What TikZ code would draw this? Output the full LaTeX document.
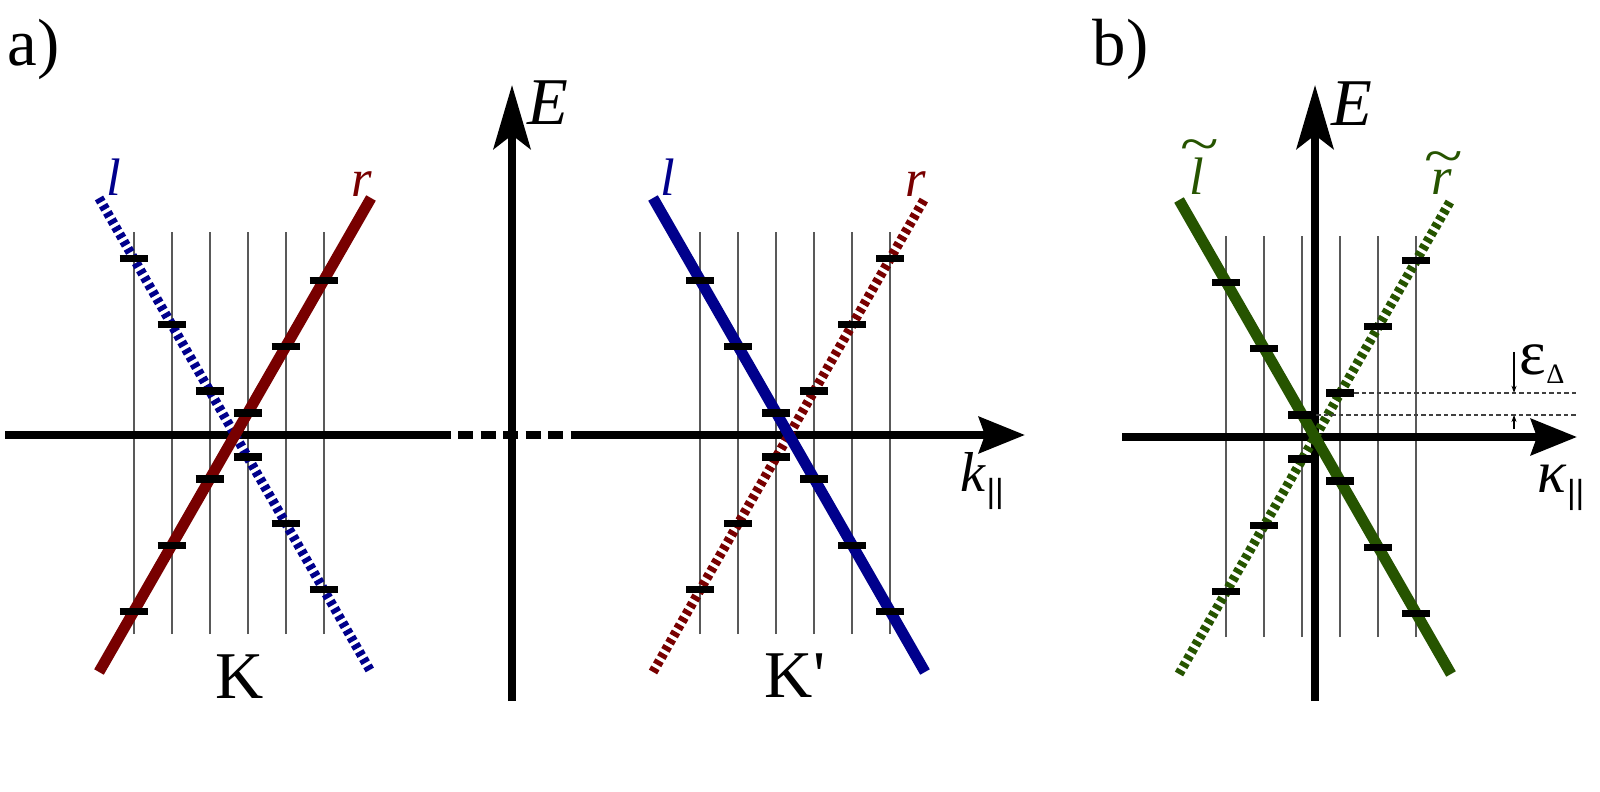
\documentclass[tikz,border=0pt]{standalone}
\usepackage{fontspec}
\setmainfont{Liberation Serif}
\setsansfont{Liberation Sans}
\newfontfamily\plainserif{Liberation Serif}
\usetikzlibrary{arrows.meta}
\definecolor{lblue}{RGB}{0,0,140}
\definecolor{rred}{RGB}{120,0,0}
\definecolor{tgreen}{RGB}{38,84,0}
\newcommand{\kstep}{0.38}
\newcommand{\bslope}{1.743}
\newcommand{\parbars}{\raisebox{-2.9pt}{\fontsize{9.5}{9.5}\selectfont\sffamily ||}}
% tilde over an italic letter: letter, raise, shift
\newcommand{\tildeon}[3]{\ooalign{\hidewidth\kern#3\raisebox{#2}{\scalebox{1.35}[1.05]{\textasciitilde}}\hidewidth\cr\textit{#1}\cr}}
\pgfdeclarelayer{back}
\pgfsetlayers{back,main}
\tikzset{
  axis line/.style={line width=0.08cm, black},
  E axis/.style={axis line, -{Stealth[length=0.64cm, width=0.37cm, inset=0.14cm]}},
  k axis/.style={axis line, -{Stealth[length=0.46cm, width=0.36cm, inset=0.06cm]}},
  gap axis/.style={axis line, dash pattern=on 0.15cm off 0.075cm},
  cut line/.style={line width=0.02cm, black!65},
  band solid/.style={line width=0.11cm},
  band dotted/.style={line width=0.095cm, dash pattern=on 0.047cm off 0.036cm},
  level tick/.style={line width=0.075cm, black},
  level dash/.style={line width=0.018cm, black!75, dash pattern=on 0.045cm off 0.03cm},
  gap arrow/.style={line width=0.012cm, black, -{Stealth[length=0.07cm, width=0.05cm]}},
  panel label/.style={inner sep=0pt, anchor=base west, font=\fontsize{19}{22}\selectfont},
  axis label/.style={inner sep=0pt, anchor=base west, font=\fontsize{19}{22}\selectfont},
  band label/.style={inner sep=0pt, anchor=base, font=\fontsize{15}{17}\selectfont},
  valley label/.style={inner sep=0pt, anchor=base, font=\fontsize{19}{22}\selectfont}
}

\begin{document}
\begin{tikzpicture}
  \useasboundingbox (0,0) rectangle (16,7.91);

  \node[panel label] (pa) at (0.07,7.25) {a)};
  \node[panel label] (pb) at (10.92,7.25) {b)};

  % axes of panel a
  \coordinate (kaStart) at (0.05,3.56);
  \coordinate (kaGapL) at (4.507,3.56);
  \coordinate (kaDashL) at (4.582,3.56);
  \coordinate (kaDashR) at (5.632,3.56);
  \coordinate (kaGapR) at (5.707,3.56);
  \coordinate (kaEnd) at (10.25,3.56);
  \coordinate (EaStart) at (5.12,0.90);
  \coordinate (EaEnd) at (5.12,7.06);
  \draw[axis line] (kaStart) -- (kaGapL);
  \draw[gap axis] (kaDashL) -- (kaDashR);
  \draw[k axis] (kaGapR) -- (kaEnd);
  \draw[E axis] (EaStart) -- (EaEnd);
  \node[axis label] (Ea) at (5.27,6.66) {\textit{E}};
  \node[axis label, font=\fontsize{16}{18}\selectfont] (ka) at (9.60,2.99) {\textit{k}\parbars};

  % valley K
  \coordinate (K) at (2.35,3.56);
  \begin{scope}[shift={(K)}]
    \begin{pgfonlayer}{back}
      \foreach \n in {-3,...,2}
        \draw[cut line] ({(\n+1/3)*\kstep},-1.99) -- ++(0,4.02);
    \end{pgfonlayer}
    \coordinate (lKtop) at (-1.36,2.37);
    \coordinate (lKbot) at (1.36,-2.37);
    \coordinate (rKbot) at (-1.36,-2.37);
    \coordinate (rKtop) at (1.36,2.37);
    \draw[band dotted, lblue] (lKtop) -- (lKbot);
    \draw[band solid, rred] (rKbot) -- (rKtop);
    \foreach \n in {-3,...,2} {
      \pgfmathsetmacro{\kx}{(\n+1/3)*\kstep}
      \draw[level tick] ({\kx-0.14},{-\bslope*\kx}) -- ++(0.28,0);
      \draw[level tick] ({\kx-0.14},{\bslope*\kx}) -- ++(0.28,0);
    }
    \node[band label, text=lblue] (lK) at (-1.21,2.39) {\textit{l}};
    \node[band label, text=rred] (rK) at (1.27,2.38) {\textit{r}};
    \node[valley label] (Klab) at (0.05,-2.63) {K};
  \end{scope}

  % valley K'
  \coordinate (Kp) at (7.89,3.56);
  \begin{scope}[shift={(Kp)}]
    \begin{pgfonlayer}{back}
      \foreach \n in {-2,...,3}
        \draw[cut line] ({(\n-1/3)*\kstep},-1.99) -- ++(0,4.02);
    \end{pgfonlayer}
    \coordinate (lKptop) at (-1.36,2.37);
    \coordinate (lKpbot) at (1.36,-2.37);
    \coordinate (rKpbot) at (-1.36,-2.37);
    \coordinate (rKptop) at (1.36,2.37);
    \draw[band dotted, rred] (rKpbot) -- (rKptop);
    \draw[band solid, lblue] (lKptop) -- (lKpbot);
    \foreach \n in {-2,...,3} {
      \pgfmathsetmacro{\kx}{(\n-1/3)*\kstep}
      \draw[level tick] ({\kx-0.14},{-\bslope*\kx}) -- ++(0.28,0);
      \draw[level tick] ({\kx-0.14},{\bslope*\kx}) -- ++(0.28,0);
    }
    \node[band label, text=lblue] (lKp) at (-1.21,2.39) {\textit{l}};
    \node[band label, text=rred] (rKp) at (1.27,2.38) {\textit{r}};
    \node[valley label] (Kplab) at (0.06,-2.62) {\plainserif K'};
  \end{scope}

  % axes of panel b
  \coordinate (kbStart) at (11.22,3.54);
  \coordinate (kbEnd) at (15.77,3.54);
  \coordinate (EbStart) at (13.15,0.90);
  \coordinate (EbEnd) at (13.15,7.06);
  \draw[k axis] (kbStart) -- (kbEnd);
  \draw[E axis] (EbStart) -- (EbEnd);
  \node[axis label] (Eb) at (13.31,6.65) {\textit{E}};
  \node[axis label, font=\fontsize{17}{19}\selectfont] (kb) at (15.37,2.98) {\textit{κ}\parbars};

  % mixed valley
  \coordinate (M) at (13.15,3.54);
  \begin{scope}[shift={(M)}]
    \begin{pgfonlayer}{back}
      \foreach \n in {-2,...,3}
        \draw[cut line] ({(\n-1/3)*\kstep},-2.00) -- ++(0,4.01);
    \end{pgfonlayer}
    \coordinate (ltop) at (-1.36,2.37);
    \coordinate (lbot) at (1.36,-2.37);
    \coordinate (rbot) at (-1.36,-2.37);
    \coordinate (rtop) at (1.36,2.37);
    \draw[band dotted, tgreen] (rbot) -- (rtop);
    \draw[band solid, tgreen] (ltop) -- (lbot);
    \foreach \n in {-2,...,3} {
      \pgfmathsetmacro{\kx}{(\n-1/3)*\kstep}
      \draw[level tick] ({\kx-0.14},{-\bslope*\kx}) -- ++(0.28,0);
      \draw[level tick] ({\kx-0.14},{\bslope*\kx}) -- ++(0.28,0);
    }
    \coordinate (lowlev) at ({-\kstep/3+0.14},{\bslope*\kstep/3});
    \coordinate (lowend) at (2.63,{\bslope*\kstep/3});
    \coordinate (uplev) at ({2*\kstep/3+0.14},{2*\bslope*\kstep/3});
    \coordinate (upend) at (2.63,{2*\bslope*\kstep/3});
    \draw[level dash] (lowlev) -- (lowend);
    \draw[level dash] (uplev) -- (upend);
    \coordinate (epsA) at (1.99,0.85);
    \coordinate (epsB) at (1.99,{2*\bslope*\kstep/3});
    \coordinate (epsC) at (1.99,0.08);
    \coordinate (epsD) at (1.99,{\bslope*\kstep/3});
    \draw[gap arrow] (epsA) -- (epsB);
    \draw[gap arrow] (epsC) -- (epsD);
    \node[inner sep=0pt, anchor=base west, font=\fontsize{18}{20}\selectfont] (eps) at (2.04,0.62)
      {ε\raisebox{-2.3pt}{\fontsize{8}{9}\selectfont Δ}};
    \node[band label, text=tgreen] (lt) at (-1.18,2.42) {\tildeon{l}{9.2pt}{1.6pt}};
    \node[band label, text=tgreen] (rt) at (1.27,2.42) {\tildeon{r}{5.8pt}{1.2pt}};
  \end{scope}
\end{tikzpicture}
\end{document}
